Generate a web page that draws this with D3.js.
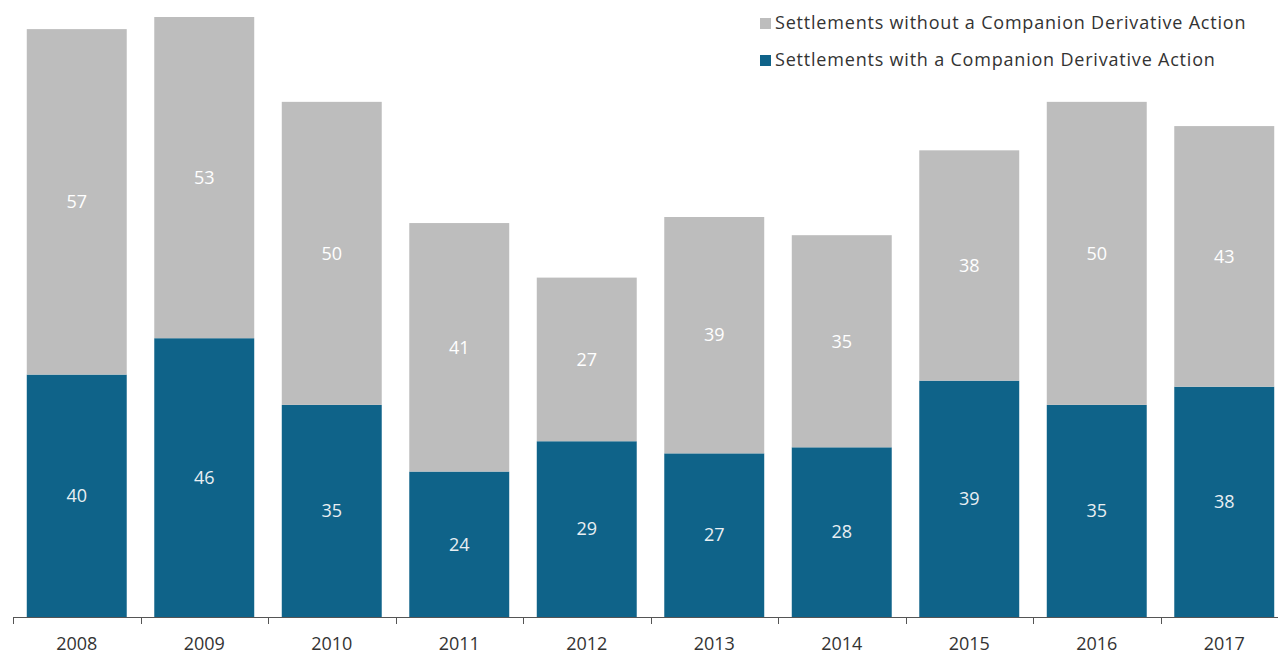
<!DOCTYPE html>
<html>
<head>
<meta charset="utf-8">
<script src="https://cdn.jsdelivr.net/npm/d3@7"></script>
<style>
  html, body { margin: 0; padding: 0; background: #ffffff; }
  svg { display: block; font-family: "Open Sans", "Noto Sans", sans-serif; }
</style>
</head>
<body>
<svg id="chart" width="1278" height="655"></svg>
<script>
// Settlement counts per year, split by whether a companion derivative action existed
const years = ["2008", "2009", "2010", "2011", "2012", "2013", "2014", "2015", "2016", "2017"];
const withDerivative = [40, 46, 35, 24, 29, 27, 28, 39, 35, 38];
const withoutDerivative = [57, 53, 50, 41, 27, 39, 35, 38, 50, 43];
const seriesNames = [
  "Settlements with a Companion Derivative Action",
  "Settlements without a Companion Derivative Action"
];

const colors = {
  with: "#0f6389",
  without: "#bdbdbd"
};

const svg = d3.select("#chart");
const baseline = 617;

const rows = years.map((y, i) => ({
  year: y,
  with: withDerivative[i],
  without: withoutDerivative[i]
}));

const x = d3.scaleBand()
  .domain(years)
  .range([13, 13 + 127.5 * years.length])
  .paddingInner(0.216)
  .paddingOuter(0.108);

const y = d3.scaleLinear()
  .domain([0, 99])
  .range([baseline, 17]);

const stack = d3.stack().keys(["with", "without"]);
const layers = stack(rows);

const g = svg.append("g");

layers.forEach(layer => {
  const key = layer.key;
  const grp = g.append("g").attr("class", "series-" + key);
  grp.selectAll("rect")
    .data(layer)
    .join("rect")
    .attr("x", d => x(d.data.year))
    .attr("width", x.bandwidth())
    .attr("y", d => y(d[1]))
    .attr("height", d => y(d[0]) - y(d[1]))
    .attr("fill", colors[key]);

  grp.selectAll("text")
    .data(layer)
    .join("text")
    .attr("x", d => x(d.data.year) + x.bandwidth() / 2)
    .attr("y", d => (y(d[0]) + y(d[1])) / 2)
    .attr("dy", "0.35em")
    .attr("text-anchor", "middle")
    .attr("font-size", 18)
    .attr("fill", key === "with" ? "#e9eff3" : "#ffffff")
    .text(d => d.data[key]);
});

// Category axis: boundary ticks between years
const axisG = svg.append("g").attr("stroke", "#555").attr("stroke-width", 1);
axisG.append("line")
  .attr("x1", 13).attr("x2", 1278)
  .attr("y1", baseline + 0.5).attr("y2", baseline + 0.5);

const step = x.step();
const tickXs = years.map((yr) => x(yr) - (step - x.bandwidth()) / 2);
axisG.selectAll("line.tick")
  .data(tickXs)
  .join("line")
  .attr("class", "tick")
  .attr("x1", d => Math.round(d) + 0.5)
  .attr("x2", d => Math.round(d) + 0.5)
  .attr("y1", baseline)
  .attr("y2", baseline + 7);

svg.append("g").selectAll("text")
  .data(years)
  .join("text")
  .attr("x", d => x(d) + x.bandwidth() / 2)
  .attr("y", 650)
  .attr("text-anchor", "middle")
  .attr("font-size", 18)
  .attr("fill", "#333")
  .text(d => d);

// Legend
const legendItems = [
  { name: seriesNames[1], color: colors.without },
  { name: seriesNames[0], color: colors.with }
];
const legend = svg.append("g").attr("transform", "translate(760,0)");
legendItems.forEach((item, i) => {
  const ly = 23 + i * 37;
  legend.append("rect")
    .attr("x", 0).attr("y", ly - 5)
    .attr("width", 11).attr("height", 11)
    .attr("fill", item.color);
  legend.append("text")
    .attr("x", 15).attr("y", ly)
    .attr("dy", "0.35em")
    .attr("font-size", 18)
    .attr("fill", "#333")
    .attr("letter-spacing", 0.8)
    .text(item.name);
});
</script>
</body>
</html>
